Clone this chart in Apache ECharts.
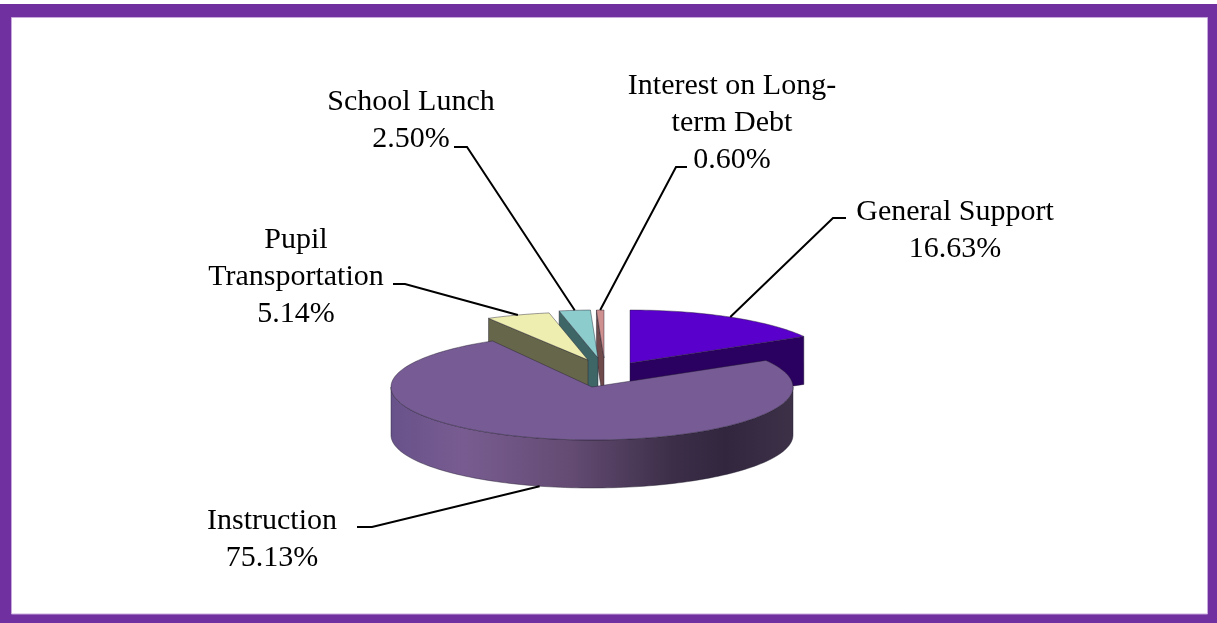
<!DOCTYPE html>
<html>
<head>
<meta charset="utf-8">
<title>Budget by function</title>
<script src="https://cdn.jsdelivr.net/npm/echarts@6/dist/echarts.min.js"></script>
<style>
  html, body { margin: 0; padding: 0; background: #fff; }
  #chart { width: 1217px; height: 623px; }
</style>
</head>
<body>
<div id="chart"></div>
<script>
// Budget shares, clockwise from twelve o'clock.
const categories = ['General Support', 'Instruction', 'Pupil\nTransportation', 'School Lunch', 'Interest on Long-\nterm Debt'];
const shares = [16.63, 75.13, 5.14, 2.50, 0.60];

// Where each slice's tip sits once pulled out of the pie, and how tall its ellipse is.
const sliceTips = [[630, 363], [592, 387], [588, 360], [598, 358], [604, 358]];
const sliceRadiusY = [53, 53, 48, 48, 48];
const radiusX = 201;
const depth = 48;
const stacking = [1, 9, 5, 4, 3];

// Slice paint: top face and cut face.
const topColors = ['#5a00cc', '#765b94', '#eeeeb0', '#8ccccc', '#cf9090'];
const faceColors = ['#2a0060', '#3b2d4a', '#66664a', '#3f6666', '#6e4a4a'];

// Label centres and the two outer points of each leader line.
const labelCenters = [[955, 231], [272, 540], [296, 277], [411, 121], [732, 123]];
const leaderEnds = [[846, 218], [357, 527], [393, 284], [454, 147], [687, 167]];
const leaderElbows = [[833, 218], [372, 527], [405, 284], [467, 147], [676, 167]];

const total = shares.reduce((a, b) => a + b, 0);
const rad = d => d * Math.PI / 180;

// Clockwise start angle of every slice, derived from the shares.
const startAngles = [];
shares.reduce((acc, v, i) => { startAngles[i] = acc; return acc + v / total * 360; }, 0);

function rimPoint(i, angle, drop) {
  const tip = sliceTips[i];
  return [
    tip[0] + radiusX * Math.sin(rad(angle)),
    tip[1] - sliceRadiusY[i] * Math.cos(rad(angle)) + (drop || 0)
  ];
}

function arc(i, from, to, drop) {
  const pts = [];
  const n = Math.max(2, Math.ceil(Math.abs(to - from) / 1.5));
  for (let k = 0; k <= n; k++) pts.push(rimPoint(i, from + (to - from) * k / n, drop));
  return pts;
}

const edge = { stroke: 'rgba(35,30,45,0.55)', lineWidth: 0.8 };

function polygon(points, fill, z2) {
  return {
    type: 'polygon',
    shape: { points },
    style: Object.assign({ fill }, edge),
    z2
  };
}

// Front wall of the large slice: lit on the left, falling into shadow to the right.
const wallShade = new echarts.graphic.LinearGradient(1, 0, 0, 0, [
  { offset: 0, color: '#3d3148' },
  { offset: 0.17, color: '#32263f' },
  { offset: 0.30, color: '#3c2e48' },
  { offset: 0.55, color: '#634b72' },
  { offset: 0.82, color: '#785c91' },
  { offset: 1, color: '#68528a' }
]);

function renderSlice(params, api) {
  const i = params.dataIndex;
  const value = api.value(0);
  const sweep = value / total * 360;
  const from = startAngles[i];
  const to = from + sweep;
  const mid = from + sweep / 2;
  const tip = sliceTips[i];
  const z = stacking[i] * 10;
  const children = [];

  // Cut face that looks toward the viewer: trailing edge on the right half, leading edge on the left.
  const faceAngle = from < 180 && to > 180 ? null : (from < 180 ? to : from);
  if (faceAngle !== null) {
    const p = rimPoint(i, faceAngle);
    children.push(polygon([tip, p, [p[0], p[1] + depth], [tip[0], tip[1] + depth]], faceColors[i], z));
  }

  // Outer wall, only on the front half of the ellipse.
  const wallFrom = Math.max(from, 90);
  const wallTo = Math.min(to, 270);
  if (wallTo > wallFrom) {
    const wall = arc(i, wallFrom, wallTo, 0).concat(arc(i, wallTo, wallFrom, depth));
    children.push(polygon(wall, wallShade, z + 1));
  }

  children.push(polygon([tip].concat(arc(i, from, to, 0)), topColors[i], z + 2));

  // Leader line: attached at the slice's middle angle, on the top rim or the lower rim when in front.
  const anchor = rimPoint(i, mid, mid > 90 && mid < 270 ? depth : 0);
  children.push({
    type: 'polyline',
    shape: { points: [leaderEnds[i], leaderElbows[i], anchor] },
    style: { stroke: '#000', lineWidth: 2, fill: null },
    z2: 200
  });

  children.push({
    type: 'text',
    style: {
      x: labelCenters[i][0],
      y: labelCenters[i][1],
      text: categories[i] + '\n' + value.toFixed(2) + '%',
      fill: '#000',
      font: '30px "Liberation Serif", "Times New Roman", serif',
      lineHeight: 37,
      align: 'center',
      verticalAlign: 'middle'
    },
    z2: 201
  });

  return { type: 'group', children };
}

const chart = echarts.init(document.getElementById('chart'), null, { renderer: 'canvas' });
chart.setOption({
  animation: false,
  backgroundColor: '#ffffff',
  // Purple picture frame around the chart area.
  graphic: [
    { type: 'rect', z: -2, shape: { x: 0, y: 4, width: 1217, height: 619 }, style: { fill: '#7030a0' } },
    { type: 'rect', z: -1, shape: { x: 11.5, y: 17.5, width: 1196, height: 596.5 },
      style: { fill: '#ffffff', stroke: '#c7aadb', lineWidth: 1 } }
  ],
  series: [{
    type: 'custom',
    coordinateSystem: 'none',
    renderItem: renderSlice,
    silent: true,
    data: shares.map((v, i) => ({ name: categories[i], value: [v] }))
  }]
});
</script>
</body>
</html>
